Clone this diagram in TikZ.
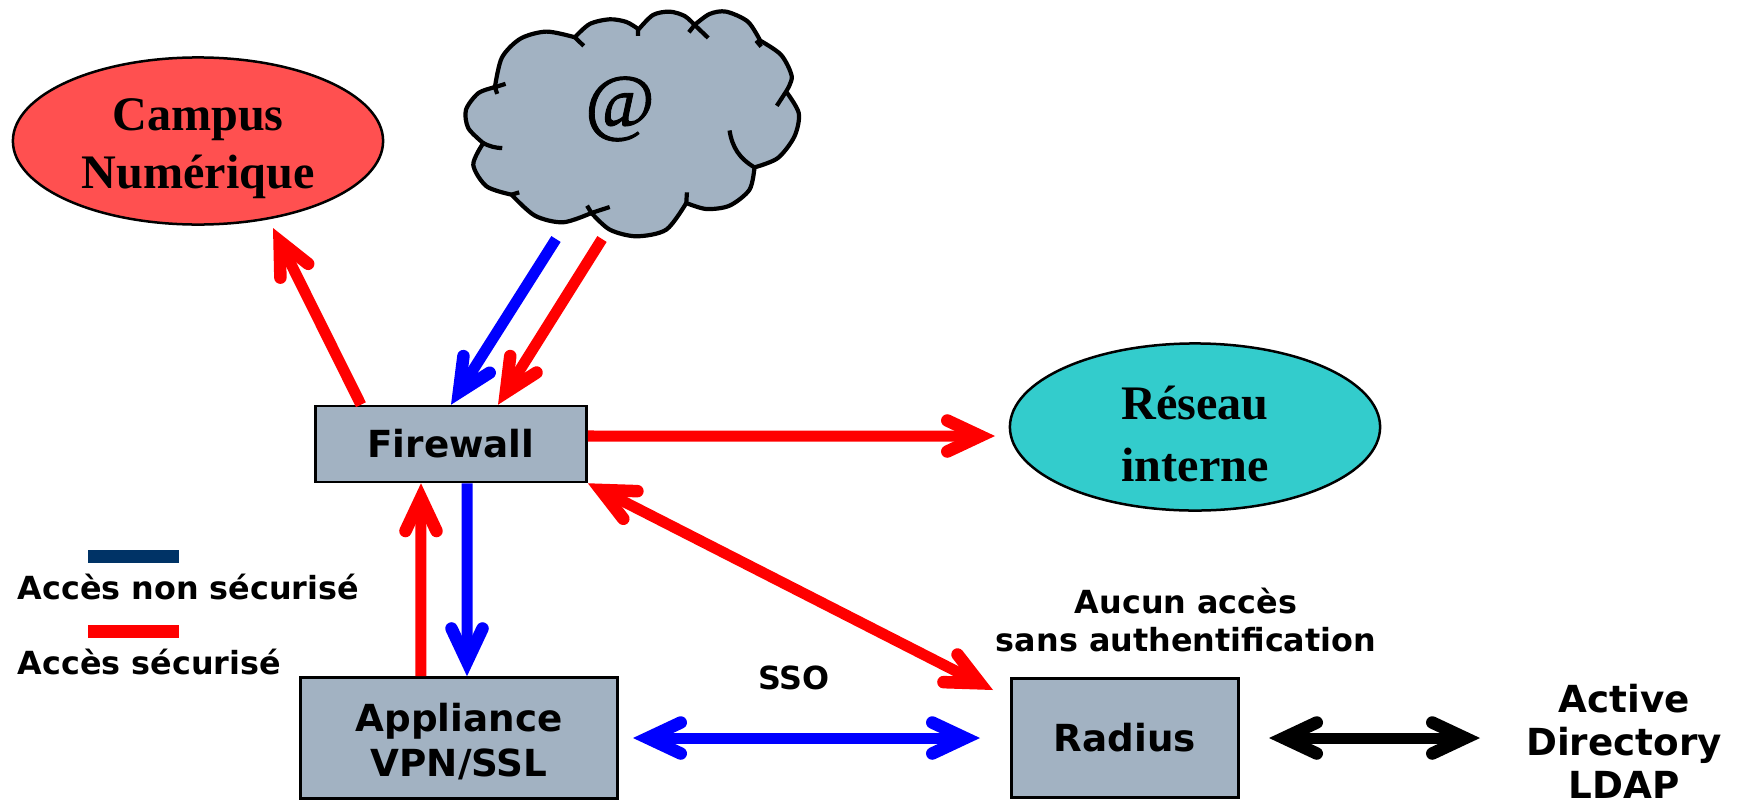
\documentclass[tikz,border=0pt]{standalone}
\usepackage{fontspec}
\setmainfont{DejaVu Sans}
\newfontfamily\serifbold{Liberation Serif}[BoldFont={Liberation Serif Bold}]
\newfontfamily\arobase{Liberation Serif}[FakeBold=1.2]
\usetikzlibrary{arrows.meta,shapes.geometric}

\definecolor{boxgray}{HTML}{A2B2C2}
\definecolor{campusred}{HTML}{FF5050}
\definecolor{reseauteal}{HTML}{33CCCC}
\definecolor{legendnavy}{HTML}{003366}

\newcommand{\zonegap}{\rule{0pt}{0.47cm}}
\newcommand{\boxgap}{\rule{0pt}{0.35cm}}

\tikzset{
  pointe/.tip={Straight Barb[length=0.33cm,width=0.31cm,line cap=round,line join=miter,line width=0.125cm]},
  box/.style={draw,line width=0.025cm,fill=boxgray,align=center,font=\fontsize{10.6}{12.7}\selectfont\bfseries},
  zone/.style={ellipse,draw,line width=0.025cm,inner sep=0pt,minimum width=3.7cm,minimum height=1.67cm,align=center,font=\fontsize{13.7}{16.5}\selectfont\serifbold\bfseries},
  label/.style={align=center,font=\fontsize{9.05}{11}\selectfont\bfseries},
  fleche/.style={line width=0.11cm,-pointe},
  doublefleche/.style={line width=0.11cm,pointe-pointe},
}

\begin{document}
\begin{tikzpicture}[x=0.01cm,y=-0.01cm]
\useasboundingbox (0,0) rectangle (1740,806);

% le nuage
\begin{scope}[shift={(440,0)},x=0.00333cm,y=-0.00333cm]
\draw[line width=0.042cm,fill=boxgray,line join=round]
  plot[smooth] coordinates {(165,262) (186,173) (242,116) (320,95) (405,112)}
  -- plot[smooth] coordinates {(405,112) (450,72) (510,58) (560,66) (597,88)}
  -- plot[smooth] coordinates {(597,88) (640,45) (690,35) (735,48) (765,75)}
  -- plot[smooth] coordinates {(765,75) (810,42) (860,35) (925,65) (962,122)}
  -- plot[smooth] coordinates {(962,122) (1025,165) (1057,230) (1040,275)}
  -- plot[smooth] coordinates {(1040,275) (1078,340) (1065,410) (1015,475) (945,503)}
  -- plot[smooth] coordinates {(945,503) (930,570) (870,618) (800,628) (740,610)}
  -- plot[smooth] coordinates {(740,610) (680,690) (590,710) (510,690) (455,640)}
  -- plot[smooth] coordinates {(455,640) (370,668) (285,648) (215,585)}
  -- plot[smooth] coordinates {(215,585) (140,560) (100,495) (130,430)}
  -- plot[smooth] coordinates {(130,430) (85,385) (78,330) (115,280) (165,262)}
  -- cycle;
\draw[line width=0.042cm]
  (405,112) -- (432,138)
  (595,88) -- (595,108)
  (748,97) -- (765,75) -- (806,114)
  (950,122) -- (965,140)
  (1040,275) -- (1012,318)
  (945,503) to[bend left=25] (870,392)
  (742,578) -- (740,610)
  (442,618) -- (455,640) -- (510,622)
  (215,585) -- (238,578)
  (130,430) to[bend right=12] (187,445)
  (172,282) -- (165,262) -- (197,252);
\end{scope}
\node[font=\fontsize{21.5}{24}\selectfont\arobase] (cloud) at (620,109) {@};

% les noeuds
\node[zone,fill=campusred] (campus) at (198,141) {\zonegap Campus\\Numérique};
\node[zone,fill=reseauteal] (reseau) at (1195,427) {\zonegap Réseau\\[1pt]interne};
\node[box,minimum width=2.71cm,minimum height=0.76cm] (firewall) at (451,444) {Firewall};
\node[box,minimum width=3.17cm,minimum height=1.21cm] (appliance) at (459,738) {\boxgap Appliance\\VPN/SSL};
\node[box,minimum width=2.27cm,minimum height=1.19cm] (radius) at (1125,738) {Radius};

\node[label,inner sep=0pt,font=\fontsize{10.6}{12.2}\selectfont\bfseries] (ldap) at (1624,741) {Active\\Directory\\LDAP};
\node[label] (aucun) at (1186,620) {Aucun accès\\sans authentification};
\node[label] (sso) at (794,678) {SSO};

% la legende
\coordinate (navyA) at (88,556);
\coordinate (navyB) at (179,556);
\coordinate (rougeA) at (88,631);
\coordinate (rougeB) at (179,631);
\draw[legendnavy,line width=0.13cm] (navyA) -- (navyB);
\draw[red,line width=0.13cm] (rougeA) -- (rougeB);
\node[label,anchor=west,inner sep=0pt] (nonsec) at (17,587) {Accès non sécurisé};
\node[label,anchor=west,inner sep=0pt] (sec) at (17,662) {Accès sécurisé};

% les fleches
\coordinate (cloudB) at (556,239);
\coordinate (cloudR) at (602,239);
\coordinate (campusS) at (273,228);
\coordinate (reseauW) at (995,436);
\coordinate (radiusN) at (993,690);
\coordinate (applianceE) at (633,738);
\coordinate (radiusW) at (980,738);
\coordinate (radiusE) at (1269,738);
\coordinate (ldapW) at (1480,738);

\draw[fleche,red] ([xshift=-0.9cm]firewall.north) -- (campusS);
\draw[fleche,blue] (cloudB) -- (firewall.north);
\draw[fleche,red] (cloudR) -- ([xshift=0.47cm]firewall.north);
\draw[fleche,red] ([yshift=0.08cm]firewall.east) -- (reseauW);
\draw[doublefleche,red] (firewall.south east) -- (radiusN);
\draw[fleche,red] ([xshift=-0.38cm]appliance.north) -- ([xshift=-0.3cm]firewall.south);
\draw[fleche,blue] ([xshift=0.16cm]firewall.south) -- ([xshift=0.08cm]appliance.north);
\draw[doublefleche,blue] (applianceE) -- (radiusW);
\draw[doublefleche,black] (radiusE) -- (ldapW);
\end{tikzpicture}
\end{document}
